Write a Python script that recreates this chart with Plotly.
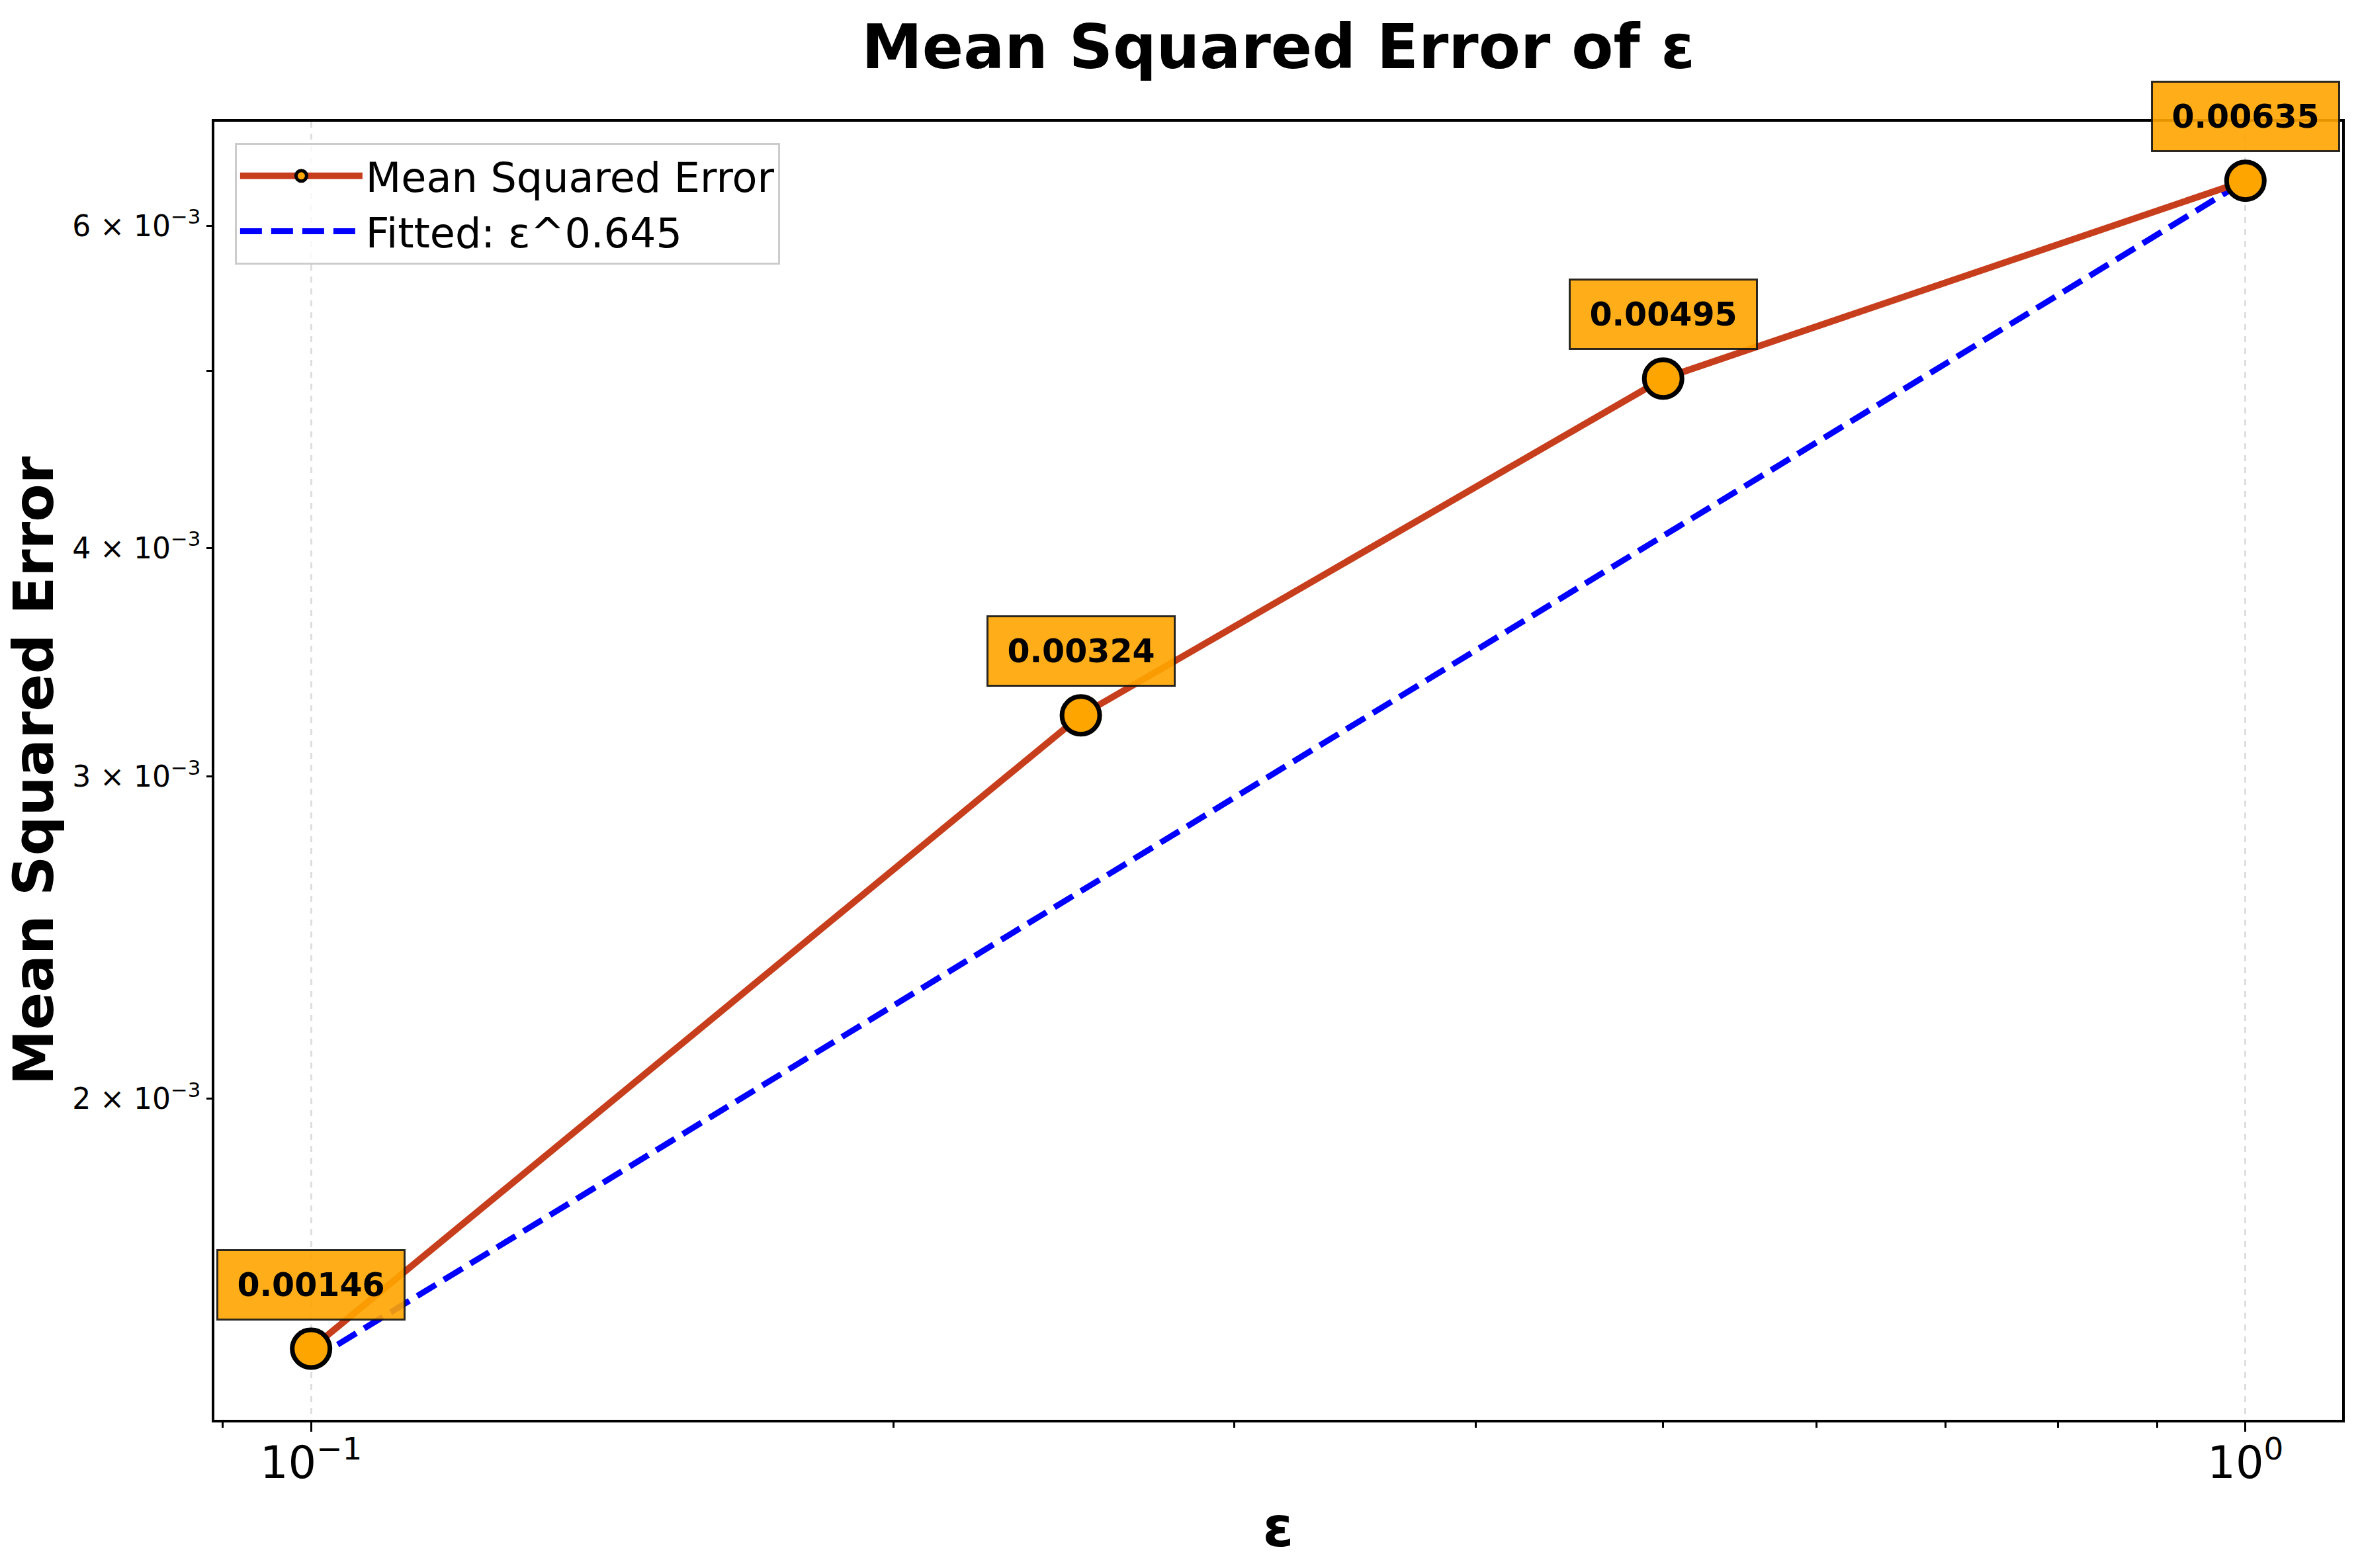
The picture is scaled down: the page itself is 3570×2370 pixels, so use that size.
import numpy as np
import plotly.graph_objects as go

# ---- data ----
eps = [0.1, 0.25, 0.5, 1.0]
mse = [0.00146, 0.00324, 0.00495, 0.00635]
mse_labels = ["0.00146", "0.00324", "0.00495", "0.00635"]

fit_eps = [0.1, 0.25, 0.5, 1.0]
fit_mse = [0.001438, 0.002597, 0.004061, 0.00635]
fit_name = "Fitted: ε^0.645"

x_tick_vals = [0.1, 1.0]
x_tick_text = ["10<sup>−1</sup>", "10<sup>0</sup>"]
x_minor_vals = [0.09, 0.2, 0.3, 0.4, 0.5, 0.6, 0.7, 0.8, 0.9]

y_tick_vals = [0.002, 0.003, 0.004, 0.005, 0.006]
y_tick_text = ["2 × 10<sup>−3</sup>", "3 × 10<sup>−3</sup>", "4 × 10<sup>−3</sup>", "", "6 × 10<sup>−3</sup>"]

FONT = "DejaVu Sans"
W, H = 3570, 2370

# axis ranges (log10) with 5% padding like matplotlib
lx = np.log10(eps)
xr = [lx.min() - 0.05 * (lx.max() - lx.min()), lx.max() + 0.05 * (lx.max() - lx.min())]
ly = np.log10(mse + fit_mse)
yr = [ly.min() - 0.05 * (ly.max() - ly.min()), ly.max() + 0.05 * (ly.max() - ly.min())]

fig = go.Figure()

fig.add_trace(go.Scatter(
    x=fit_eps, y=fit_mse, mode="lines", name=fit_name,
    line=dict(color="#0000FF", width=9, dash="33px,14px"),
))
fig.add_trace(go.Scatter(
    x=eps, y=mse, mode="lines+markers", name="Mean Squared Error",
    line=dict(color="#C73E1D", width=10),
    marker=dict(size=57, color="#FFA500", line=dict(color="black", width=7)),
))

for e, v, t in zip(eps, mse, mse_labels):
    fig.add_annotation(
        x=np.log10(e), y=np.log10(v), xref="x", yref="y",
        text="<b>" + t + "</b>", showarrow=False, yshift=97,
        font=dict(family=FONT, size=49, color="black"),
        bgcolor="rgba(255,165,0,0.9)", bordercolor="rgba(20,20,20,0.9)",
        borderwidth=3, borderpad=20, width=240, height=62,
    )

fig.update_layout(
    width=W, height=H,
    margin=dict(l=324, r=30, t=184, b=224),
    paper_bgcolor="white", plot_bgcolor="white",
    font=dict(family=FONT, color="black"),
    title=dict(text="<b>Mean Squared Error of ε</b>", x=0.5, xref="paper",
               y=1 - 71 / H, yanchor="middle", xanchor="center",
               font=dict(family=FONT, size=92, color="black")),
    legend=dict(x=0.0096, y=0.9837, xanchor="left", yanchor="top",
                traceorder="reversed", itemsizing="trace",
                bgcolor="rgba(255,255,255,0.8)", bordercolor="#cccccc", borderwidth=3,
                font=dict(family=FONT, size=62, color="black"),
                itemwidth=185, tracegroupgap=0),
    showlegend=True,
)

fig.update_xaxes(
    type="log", range=xr,
    tickvals=x_tick_vals, ticktext=x_tick_text,
    ticks="outside", ticklen=14, tickwidth=3, tickcolor="black",
    tickfont=dict(family=FONT, size=67, color="black"),
    ticklabelstandoff=-10,
    showline=True, linewidth=3.5, linecolor="black", mirror=True,
    showgrid=True, gridcolor="#dedede", gridwidth=3, griddash="dash",
    minor=dict(tickvals=x_minor_vals, ticks="outside", ticklen=8, tickwidth=2.5,
               tickcolor="black", showgrid=False),
    zeroline=False,
    title=dict(text="<b>ε</b>", font=dict(family=FONT, size=84, color="black"), standoff=30),
)
fig.update_yaxes(
    type="log", range=yr,
    tickvals=y_tick_vals, ticktext=y_tick_text,
    ticks="outside", ticklen=8, tickwidth=2.5, tickcolor="black",
    tickfont=dict(family=FONT, size=44, color="black"),
    showline=True, linewidth=3.5, linecolor="black", mirror=True,
    showgrid=False, zeroline=False,
    title=dict(text="<b>Mean Squared Error</b>", font=dict(family=FONT, size=84, color="black"), standoff=2),
)

fig.write_html("out.html", config={"displayModeBar": False},
               post_script="document.body.style.margin='0';")
